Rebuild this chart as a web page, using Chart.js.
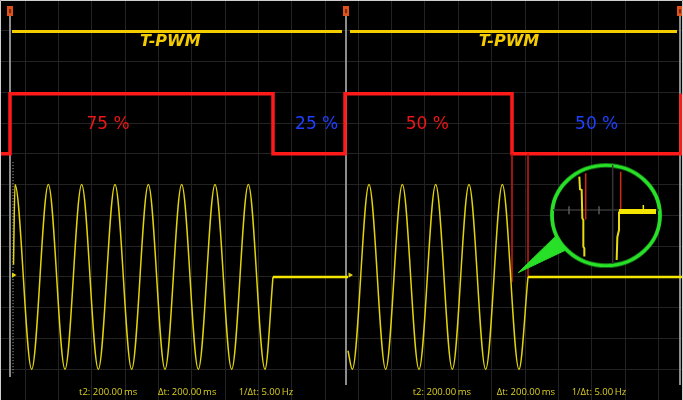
<!DOCTYPE html>
<html>
<head>
<meta charset="utf-8">
<script src="https://cdn.jsdelivr.net/npm/chart.js@4.4.0/dist/chart.umd.min.js"></script>
<style>
html, body { margin: 0; padding: 0; background: #000; }
canvas { display: block; }
</style>
</head>
<body>
<canvas id="scope" width="683" height="400"></canvas>
<script>
// time in ms, level in screen divisions (0 = channel ground)
let timeMin = -15, timeMax = 394.8;
let divMin = -4, divMax = 9;

let pwmTime  = [-15, -9, -9, 148.8, 148.8, 192, 192, 292.2, 292.2, 393.6, 393.6];
let pwmLevel = [4, 4, 5.95, 5.95, 4, 4, 5.95, 5.95, 4, 4, 5.95];

let tpwmStart = [-7.8, 195];
let tpwmEnd   = [190.2, 391.2];
let tpwmLevel = 7.98;

let sineLeftTime  = [-6.9, -6, 4, 14, 24, 34, 44, 54, 64, 74, 84, 94, 104, 114, 124, 134, 144, 148.8];
let sineLeftLevel = [0.4, 3, -3, 3, -3, 3, -3, 3, -3, 3, -3, 3, -3, 3, -3, 3, -3, 0];

let sineRightTime  = [193.8, 196.4, 206.4, 216.4, 226.4, 236.4, 246.4, 256.4, 266.4, 276.4, 286.4, 296.4, 301.8];
let sineRightLevel = [-2.4, -3, 3, -3, 3, -3, 3, -3, 3, -3, 3, -3, 0];

let idleStart = [148.8, 301.8];
let idleEnd   = [193.8, 394.8];

let cursorTime   = [-9, 192.6, 393];
let cursorTop    = 8.51;
let cursorBottom = [-3.25, -3.51, -3.51];
let markerLevel  = 8.64;

let edgeTime   = [292.2, 301.8];
let edgeBottom = [-0.16, -0.03];

let trigTime  = [-6.9, 195];
let trigLevel = 0.06;

// zoomed view inside the magnifier
let zoomCenter = { x: 348.6, y: 2.0 };
let pointerTime  = [296, 321, 325.8, 296];
let pointerLevel = [0.14, 1.46, 0.91, 0.14];

let zoomATime  = [332.6, 333.0, 334.0, 334.4, 335.0, 335.0, 335.6, 335.6];
let zoomALevel = [3.26, 2.85, 2.83, 1.91, 1.85, 0.98, 0.93, 0.66];
let zoomBTime  = [355.0, 355.4, 356.4, 356.4];
let zoomBLevel = [0.55, 1.29, 1.53, 2.13];
let zoomBarTime = [356.4, 378.6];
let zoomBarLevel = 2.13;
let zoomRedTime = [336.4, 357.4];
let zoomRedTop  = [3.37, 3.42];
let zoomRedBot  = [1.87, 2.15];

let titleText  = 'T-PWM';
let dutyText   = ['75 %', '25 %', '50 %', '50 %'];
let measureText = ['t2: 200.00\u2009ms', '\u0394t: 200.00\u2009ms', '1/\u0394t: 5.00\u2009Hz'];

const yellow = '#f4cc00';
const trace = '#e2d40c';

function pts(xs, ys) {
  return xs.map((x, i) => ({ x: x, y: Array.isArray(ys) ? ys[i] : ys }));
}
function vlines(xs, tops, bots) {
  let out = [];
  xs.forEach((x, i) => {
    out.push({ x: x, y: Array.isArray(tops) ? tops[i] : tops });
    out.push({ x: x, y: Array.isArray(bots) ? bots[i] : bots });
    out.push({ x: x, y: null });
  });
  return out;
}
function hlines(starts, ends, level) {
  let out = [];
  starts.forEach((s, i) => {
    out.push({ x: s, y: level }, { x: ends[i], y: level }, { x: ends[i], y: null });
  });
  return out;
}

// magnifier ring and cursor flag as point images
let ring = document.createElement('canvas');
ring.width = 116; ring.height = 108;
let rc = ring.getContext('2d');
rc.beginPath();
rc.ellipse(58, 54, 54, 50.2, 0, 0, Math.PI * 2);
rc.fillStyle = '#000';
rc.fill();
rc.lineWidth = 3.8;
rc.strokeStyle = '#27e027';
rc.stroke();

let flag = document.createElement('canvas');
flag.width = 6; flag.height = 10;
let fc = flag.getContext('2d');
fc.fillStyle = '#e2501a';
fc.fillRect(0, 0, 6, 10);
fc.fillStyle = '#7a2a08';
fc.fillRect(2, 3, 2, 4);

let line = (data, color, width, order, extra) => Object.assign({
  type: 'line', data: data, borderColor: color, backgroundColor: color,
  borderWidth: width, pointRadius: 0, fill: false, order: order
}, extra || {});

let background = {
  id: 'background',
  beforeDraw(chart) {
    let ctx = chart.ctx;
    ctx.save();
    ctx.fillStyle = '#000';
    ctx.fillRect(0, 0, chart.width, chart.height);
    ctx.restore();
  },
  afterDraw(chart) {
    let ctx = chart.ctx;
    ctx.save();
    ctx.strokeStyle = '#cfcfcf';
    ctx.lineWidth = 1;
    ctx.beginPath();
    ctx.moveTo(0.5, 400); ctx.lineTo(0.5, 0.5); ctx.lineTo(682.5, 0.5); ctx.lineTo(682.5, 400);
    ctx.stroke();
    ctx.restore();
  }
};

let labels = {
  id: 'labels',
  afterDatasetsDraw(chart) {
    let ctx = chart.ctx, sx = chart.scales.x, sy = chart.scales.y;
    ctx.save();
    ctx.textAlign = 'center';
    ctx.textBaseline = 'middle';
    ctx.font = 'italic bold 16px "DejaVu Sans"';
    ctx.fillStyle = yellow;
    [87.2, 290.4].forEach(t => ctx.fillText(titleText, sx.getPixelForValue(t), sy.getPixelForValue(7.65)));

    ctx.font = '17px "DejaVu Sans"';
    let dutyAt = [49.8, 175, 241.4, 343];
    let dutyColor = ['#ec1616', '#1e40ff', '#ec1616', '#1e40ff'];
    dutyText.forEach((s, i) => {
      ctx.fillStyle = dutyColor[i];
      ctx.fillText(s, sx.getPixelForValue(dutyAt[i]), sy.getPixelForValue(4.95));
    });

    ctx.font = '9.5px "Open Sans"';
    ctx.textAlign = 'left';
    ctx.textBaseline = 'alphabetic';
    ctx.fillStyle = '#dccf22';
    let measureAt = [[32.4, 79.8, 128.2], [232.6, 283, 328]];
    measureAt.forEach(row => row.forEach((t, i) => {
      ctx.fillText(measureText[i], sx.getPixelForValue(t), sy.getPixelForValue(-3.84));
    }));
    ctx.restore();
  }
};

new Chart(document.getElementById('scope'), {
  type: 'line',
  data: {
    datasets: [
      line(vlines(cursorTime, cursorTop, cursorBottom), '#8c8c8c', 2, 30),
      line(vlines([-7.2], 3.73, -3.19), '#b8b8b8', 1, 29, { borderDash: [1, 2] }),
      line(pts(pwmTime, pwmLevel), '#ff1a1a', 3.5, 28),
      line(hlines(tpwmStart, tpwmEnd, tpwmLevel), yellow, 3, 27),
      line(vlines(edgeTime, 4, edgeBottom), '#b01810', 1, 26),
      line(pts(sineLeftTime, sineLeftLevel), trace, 1.5, 25, { cubicInterpolationMode: 'monotone' }),
      line(pts(sineRightTime, sineRightLevel), trace, 1.5, 25, { cubicInterpolationMode: 'monotone' }),
      line(hlines(idleStart, idleEnd, 0), '#f5e600', 2.5, 24),
      line(pts(trigTime, trigLevel), trace, 0, 23, {
        showLine: false, pointRadius: 3, pointStyle: 'triangle', rotation: 90
      }),
      line(pts(pointerTime, pointerLevel), '#27e027', 1, 22, { fill: 'shape' }),
      line([zoomCenter], '#27e027', 0, 21, { showLine: false, pointRadius: 5, pointStyle: ring }),
      line(hlines([316.8], [380.4], 2.175), '#363636', 1.5, 20),
      line(vlines([352.6], 3.64, 0.42), '#363636', 1.5, 20),
      line(vlines([326.4, 344.4], 2.3, 2.04), '#5a5a5a', 1.5, 19),
      line(vlines(zoomRedTime, zoomRedTop, zoomRedBot), '#d42a10', 1.5, 18),
      line(pts(zoomATime, zoomALevel), '#e8dc10', 2, 17),
      line(pts(zoomBTime, zoomBLevel), '#e8dc10', 2, 17),
      line(hlines([zoomBarTime[0]], [zoomBarTime[1]], zoomBarLevel), '#f5e600', 5, 16),
      line(vlines([371], 2.34, 2.13), '#f5e600', 1.5, 16),
      line(pts(cursorTime, markerLevel), '#e2501a', 0, 15, { showLine: false, pointRadius: 5, pointStyle: flag })
    ]
  },
  options: {
    responsive: false,
    animation: false,
    devicePixelRatio: 1,
    layout: { padding: 0, autoPadding: false },
    plugins: { legend: { display: false }, tooltip: { enabled: false } },
    scales: {
      x: {
        type: 'linear', min: timeMin, max: timeMax,
        ticks: { display: false, stepSize: 20, includeBounds: false },
        grid: { color: '#232323', drawTicks: false },
        border: { display: false }
      },
      y: {
        type: 'linear', min: divMin, max: divMax,
        ticks: { display: false, stepSize: 1, includeBounds: false },
        grid: { color: '#232323', drawTicks: false },
        border: { display: false }
      }
    }
  },
  plugins: [background, labels]
});
</script>
</body>
</html>
